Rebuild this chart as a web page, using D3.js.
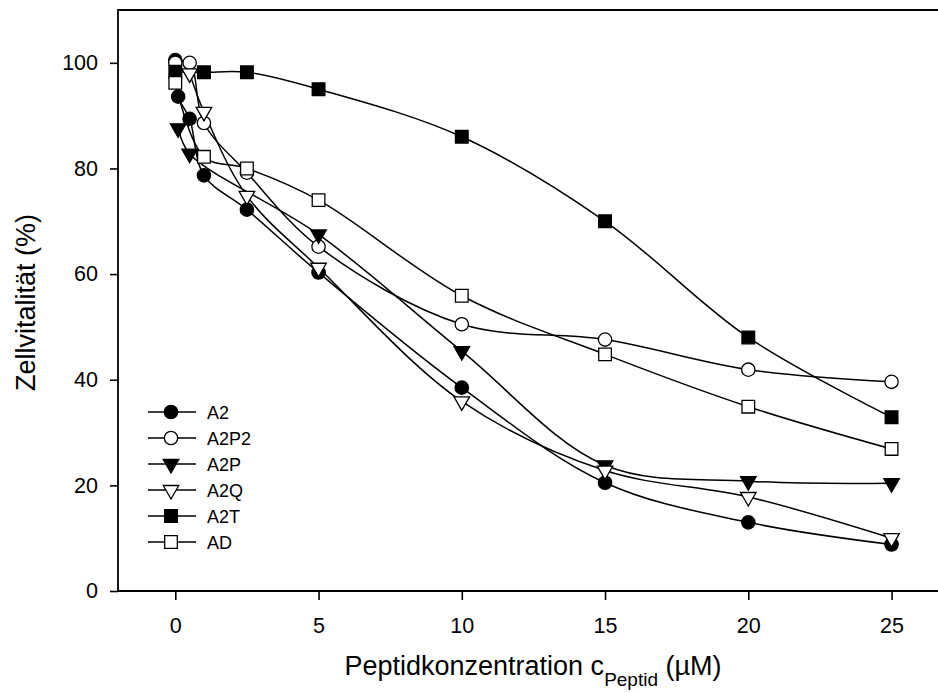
<!DOCTYPE html>
<html>
<head>
<meta charset="utf-8">
<script src="https://cdn.jsdelivr.net/npm/d3@7"></script>
<style>
  body { margin: 0; background: #fff; }
  svg { display: block; font-family: "Liberation Sans", Arial, sans-serif; }
</style>
</head>
<body>
<div id="chart"></div>
<script>
// series values (x = µM, y = %)
const seriesNames = ["A2", "A2P2", "A2P", "A2Q", "A2T", "AD"];

const a2X   = [0, 0.1, 0.5, 1, 2.5, 5, 10, 15, 20, 25];
const a2Y   = [100.5, 93.6, 89.4, 78.7, 72.2, 60.3, 38.5, 20.5, 13, 8.8];

const a2p2X = [0, 0.5, 1, 2.5, 5, 10, 15, 20, 25];
const a2p2Y = [100, 100, 88.6, 79.2, 65.2, 50.5, 47.6, 41.9, 39.6];

const a2pX  = [0.1, 0.5, 5, 10, 15, 20, 25];
const a2pY  = [87.6, 82.8, 67.5, 45.4, 23.8, 20.8, 20.4];

const a2qX  = [0.5, 1, 2.5, 5, 10, 15, 20, 25];
const a2qY  = [98, 90.7, 74.8, 61.2, 35.9, 22.8, 17.8, 10];

const a2tX  = [0, 1, 2.5, 5, 10, 15, 20, 25];
const a2tY  = [98.3, 98.2, 98.2, 95, 86, 70, 48, 32.9];

const adX   = [0, 1, 2.5, 5, 10, 15, 20, 25];
const adY   = [96.2, 82.2, 80, 74, 55.9, 44.8, 34.9, 26.9];

const xTicks = [0, 5, 10, 15, 20, 25];
const yTicks = [0, 20, 40, 60, 80, 100];

const W = 938, H = 693;
const svg = d3.select("#chart").append("svg")
  .attr("width", W).attr("height", H);

const pLeft = 118, pTop = 10, pBottom = 591;
const x = d3.scaleLinear().domain([-2, 26.6]).range([pLeft, pLeft + 28.6 * 28.65]);
const y = d3.scaleLinear().domain([0, 110]).range([pBottom, pTop]);

const styles = {
  A2:   { shape: d3.symbolCircle,   fill: "#000", size: 140, flip: false },
  A2P2: { shape: d3.symbolCircle,   fill: "#fff", size: 140, flip: false },
  A2P:  { shape: d3.symbolTriangle, fill: "#000", size: 105, flip: true },
  A2Q:  { shape: d3.symbolTriangle, fill: "#fff", size: 105, flip: true },
  A2T:  { shape: d3.symbolSquare,   fill: "#000", size: 160, flip: false },
  AD:   { shape: d3.symbolSquare,   fill: "#fff", size: 160, flip: false }
};

const series = [
  { name: "A2",   xs: a2X,   ys: a2Y },
  { name: "A2P2", xs: a2p2X, ys: a2p2Y },
  { name: "A2P",  xs: a2pX,  ys: a2pY },
  { name: "A2Q",  xs: a2qX,  ys: a2qY },
  { name: "A2T",  xs: a2tX,  ys: a2tY },
  { name: "AD",   xs: adX,   ys: adY }
];

svg.append("clipPath").attr("id", "plot")
  .append("rect").attr("x", pLeft).attr("y", pTop)
  .attr("width", W - pLeft).attr("height", pBottom - pTop);

// axes
const yAxis = svg.append("g").attr("transform", `translate(${pLeft},0)`)
  .call(d3.axisLeft(y).tickValues(yTicks).tickSize(8).tickPadding(12));
const xAxis = svg.append("g").attr("transform", `translate(0,${pBottom})`)
  .call(d3.axisBottom(x).tickValues(xTicks).tickSize(9).tickPadding(18));
[xAxis, yAxis].forEach(g => {
  g.select(".domain").remove();
  g.selectAll("line").attr("stroke", "#000").attr("stroke-width", 1.6);
  g.selectAll("text").attr("font-size", 21.5).attr("fill", "#000")
    .attr("font-family", "Liberation Sans, Arial, sans-serif");
});

// frame: left, top, bottom (right edge is off the picture)
svg.append("path")
  .attr("d", `M${W + 2},${pTop}H${pLeft}V${pBottom}H${W + 2}`)
  .attr("fill", "none").attr("stroke", "#000").attr("stroke-width", 1.8);

const line = d3.line().curve(d3.curveCatmullRom.alpha(0.5))
  .x(d => x(d[0])).y(d => y(d[1]));

const plot = svg.append("g").attr("clip-path", "url(#plot)");

function marker(g, st, cx, cy) {
  g.append("path")
    .attr("d", d3.symbol().type(st.shape).size(st.size)())
    .attr("transform", `translate(${cx},${cy})` + (st.flip ? " rotate(180)" : ""))
    .attr("fill", st.fill).attr("stroke", "#000").attr("stroke-width", 1.3);
}

series.forEach(s => {
  const pts = s.xs.map((v, i) => [v, s.ys[i]]);
  plot.append("path").datum(pts).attr("d", line)
    .attr("fill", "none").attr("stroke", "#000").attr("stroke-width", 1.5);
});
series.forEach(s => {
  s.xs.forEach((v, i) => marker(plot, styles[s.name], x(v), y(s.ys[i])));
});

// legend
const leg = svg.append("g");
seriesNames.forEach((n, i) => {
  const ly = 412 + i * 26;
  leg.append("line").attr("x1", 148).attr("x2", 196).attr("y1", ly).attr("y2", ly)
    .attr("stroke", "#000").attr("stroke-width", 1.5);
  marker(leg, styles[n], 171, ly);
  leg.append("text").attr("x", 207).attr("y", ly + 6.5)
    .attr("font-size", 18).text(n);
});

// axis titles
svg.append("text")
  .attr("transform", `translate(35,${(pTop + pBottom) / 2 + 2}) rotate(-90)`)
  .attr("text-anchor", "middle").attr("font-size", 27)
  .text("Zellvitalität (%)");

const xt = svg.append("text").attr("x", 533).attr("y", 675)
  .attr("text-anchor", "middle").attr("font-size", 27);
xt.append("tspan").text("Peptidkonzentration c");
xt.append("tspan").attr("font-size", 19).attr("dy", 11).text("Peptid");
xt.append("tspan").attr("dy", -11).text(" (µM)");
</script>
</body>
</html>
